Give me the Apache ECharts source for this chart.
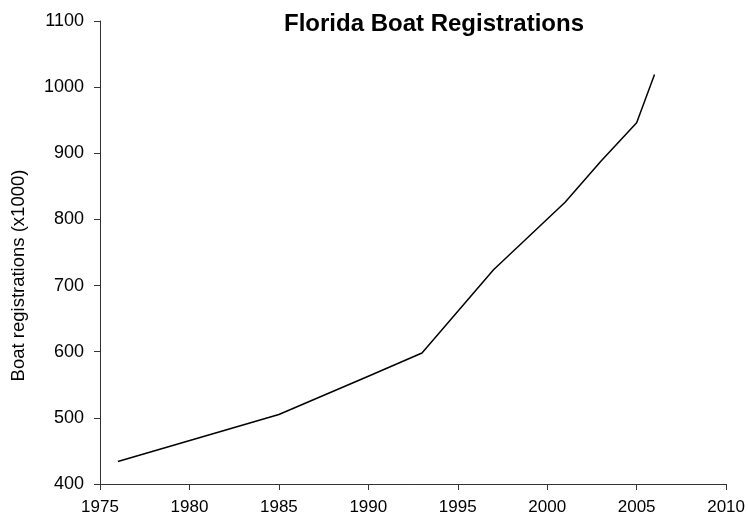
<!DOCTYPE html>
<html>
<head>
<meta charset="utf-8">
<script src="https://cdn.jsdelivr.net/npm/echarts@6/dist/echarts.min.js"></script>
<style>
  html, body { margin: 0; padding: 0; background: #fff; }
  #chart { width: 748px; height: 525px; }
</style>
</head>
<body>
<div id="chart"></div>
<script>
const years = [1976, 1985, 1990, 1993, 1997, 2001, 2003, 2005, 2006]
const registrations = [434, 505, 563, 598, 724, 826, 888, 946, 1019]

const chart = echarts.init(document.getElementById('chart'))

const labelFont = {
  color: '#000',
  fontFamily: 'Liberation Sans, Arial, sans-serif',
  fontSize: 17,
  formatter: (v) => String(v),
}

chart.setOption({
  animation: false,
  title: {
    text: 'Florida Boat Registrations',
    left: 279,
    top: 7,
    textStyle: {
      fontFamily: 'Liberation Sans, Arial, sans-serif',
      fontSize: 24,
      fontWeight: 'bold',
      color: '#000',
    },
  },
  grid: {
    left: 100,
    right: 20,
    top: 21,
    bottom: 41,
  },
  xAxis: {
    type: 'value',
    min: 1975,
    max: 2010,
    interval: 5,
    axisLine: { lineStyle: { color: '#333', width: 1 } },
    axisTick: { show: true, length: 6, lineStyle: { color: '#333' } },
    axisLabel: { ...labelFont, margin: 15 },
    splitLine: { show: false },
  },
  yAxis: {
    type: 'value',
    min: 400,
    max: 1100,
    interval: 100,
    name: 'Boat registrations (x1000)',
    nameLocation: 'middle',
    nameGap: 72,
    nameTextStyle: {
      color: '#000',
      fontFamily: 'Liberation Sans, Arial, sans-serif',
      fontSize: 18.5,
      padding: [0, 46, 0, 0],
    },
    axisLine: { show: true, lineStyle: { color: '#333', width: 1 } },
    axisTick: { show: true, length: 6, lineStyle: { color: '#333' } },
    axisLabel: { ...labelFont, fontSize: 18, margin: 16 },
    splitLine: { show: false },
  },
  series: [
    {
      type: 'line',
      data: years.map((y, i) => [y, registrations[i]]),
      showSymbol: false,
      lineStyle: { color: '#000', width: 1.5 },
    },
  ],
})
</script>
</body>
</html>
